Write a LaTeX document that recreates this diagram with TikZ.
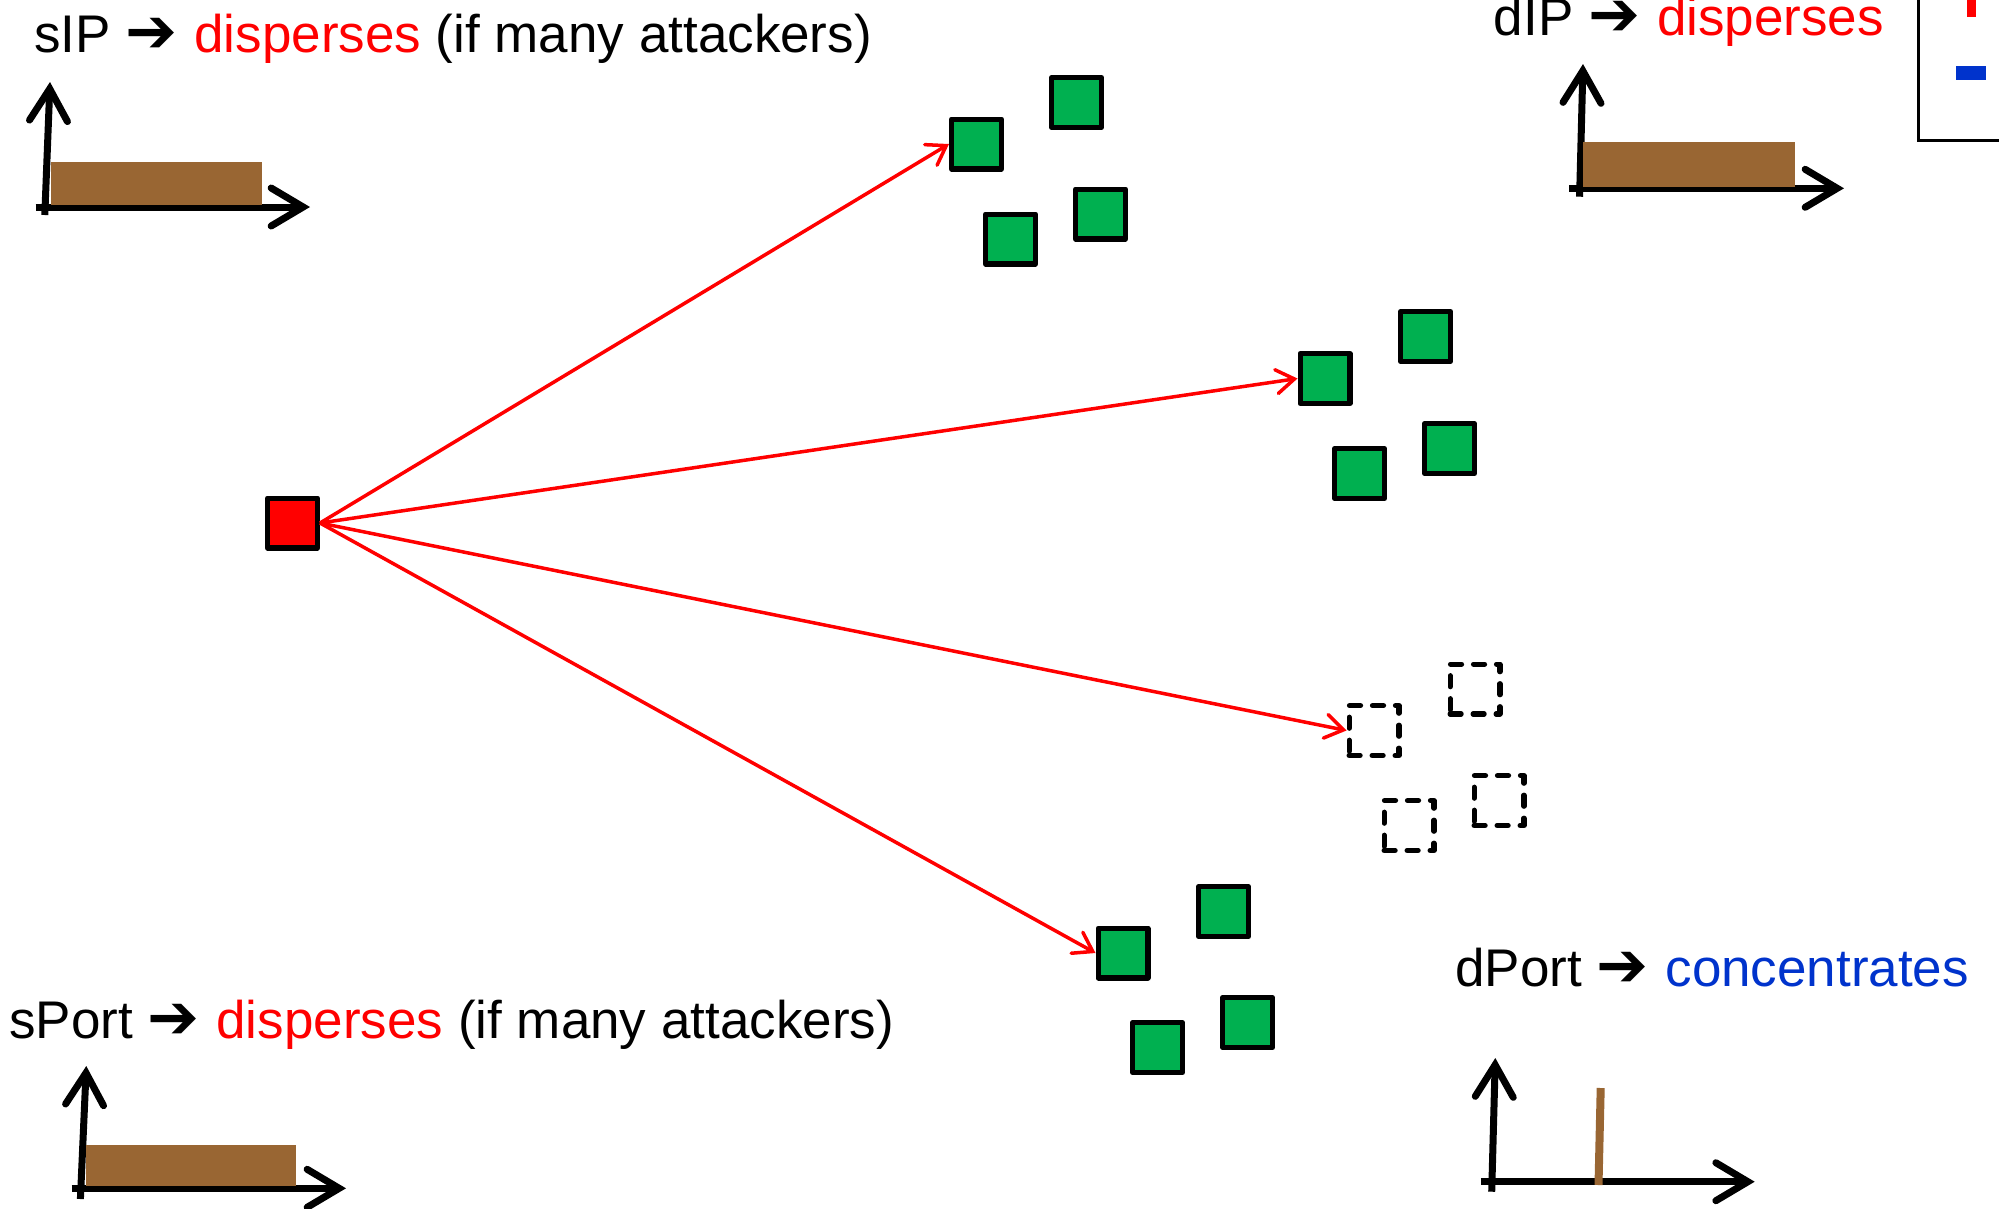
\documentclass[tikz,border=0pt]{standalone}
\usepackage{fontspec}
\setmainfont{Liberation Sans}
\newfontfamily\symfont{DejaVu Sans}
\usetikzlibrary{arrows.meta}
\definecolor{pgreen}{HTML}{00B050}
\definecolor{pbrown}{HTML}{996633}
\definecolor{pblue}{HTML}{0033CC}
\definecolor{pred}{HTML}{FF0000}
% heavy arrow between a field name and its behaviour, with the space after it
\newcommand\rarr{\makebox[68.9pt][l]{\resizebox{52pt}{!}{\symfont ➔}}}
\begin{document}
\begin{tikzpicture}[x=1pt,y=-1pt,
  host/.style={draw=black, line width=5.2pt, line join=round, fill=pgreen,
    minimum size=49.8pt, inner sep=0pt},
  attacker/.style={host, fill=pred},
  gone/.style={host, fill=none, dash pattern=on 11pt off 12pt, line cap=round},
  link/.style={draw=pred, line width=3.5pt,
    -{Straight Barb[length=18pt,width=24pt,line cap=round]}},
  axis/.style={line width=7pt,
    -{Straight Barb[length=32pt,width=38pt,line cap=round]}},
  bar/.style={fill=pbrown},
  caption/.style={anchor=base west, inner sep=0pt,
    font=\fontsize{53}{60}\selectfont}]
\useasboundingbox (0,0) rectangle (1999,1208);

% captions
\node[caption] (tsip) at (34,52)
  {sIP \rarr\textcolor{pred}{disperses} (if many attackers)};
\node[caption] (tdip) at (1493.7,35)
  {dIP \rarr\textcolor{pred}{disperses}};
\node[caption] (tsport) at (9,1038)
  {sPort \rarr\textcolor{pred}{disperses} (if many attackers)};
\node[caption] (tdport) at (1455,986.7)
  {dPort \rarr\textcolor{pblue}{concentrates}};

% legend box (partly off the page)
\draw[line width=2.5pt] (1918.3,-5) -- (1918.3,140.7) -- (2010,140.7);
\fill[pred] (1966.7,-5) rectangle (1975.7,16.7);
\fill[pblue] (1956,66) rectangle (1986,80);

% histogram sIP
\draw[axis] (44.8,215) -- (50,82);
\draw[axis] (35.6,207) -- (310,207);
\fill[bar] (50.5,162) rectangle (262,205);

% histogram dIP
\draw[axis] (1579.6,196.7) -- (1583,64);
\draw[axis] (1569,188.3) -- (1844,188.3);
\fill[bar] (1583,141.7) rectangle (1795,186.7);

% histogram sPort
\draw[axis] (80.4,1199) -- (86.3,1066);
\draw[axis] (71.6,1188.3) -- (346,1188.3);
\fill[bar] (86.3,1145) rectangle (296.4,1186);

% histogram dPort
\draw[axis] (1491.7,1191.7) -- (1495.3,1058);
\draw[axis] (1480.8,1181.7) -- (1754.7,1181.7);
\draw[pbrown, line width=8pt] (1600.7,1088) -- (1598.5,1185);

% attacker
\node[attacker] (src) at (292.5,523) {};

% victim group 1
\node[host] (g1a) at (976.5,144) {};
\node[host] (g1b) at (1076.5,102.5) {};
\node[host] (g1c) at (1010.5,239) {};
\node[host] (g1d) at (1100.5,214) {};

% victim group 2
\node[host] (g2a) at (1325,378.5) {};
\node[host] (g2b) at (1425.5,336.5) {};
\node[host] (g2c) at (1359.5,473.5) {};
\node[host] (g2d) at (1449.5,448.5) {};

% unused addresses
\node[gone] (g3a) at (1374,730.5) {};
\node[gone] (g3b) at (1475,689) {};
\node[gone] (g3c) at (1409,825.5) {};
\node[gone] (g3d) at (1499,800.5) {};

% victim group 4
\node[host] (g4a) at (1123,953) {};
\node[host] (g4b) at (1223.5,911.5) {};
\node[host] (g4c) at (1157.5,1047.5) {};
\node[host] (g4d) at (1247.5,1022.5) {};

% scans
\draw[link] (src.east) -- (g1a.west);
\draw[link] (src.east) -- (g2a.west);
\draw[link] (src.east) -- (g3a.west);
\draw[link] (src.east) -- (g4a.west);
\end{tikzpicture}
\end{document}
